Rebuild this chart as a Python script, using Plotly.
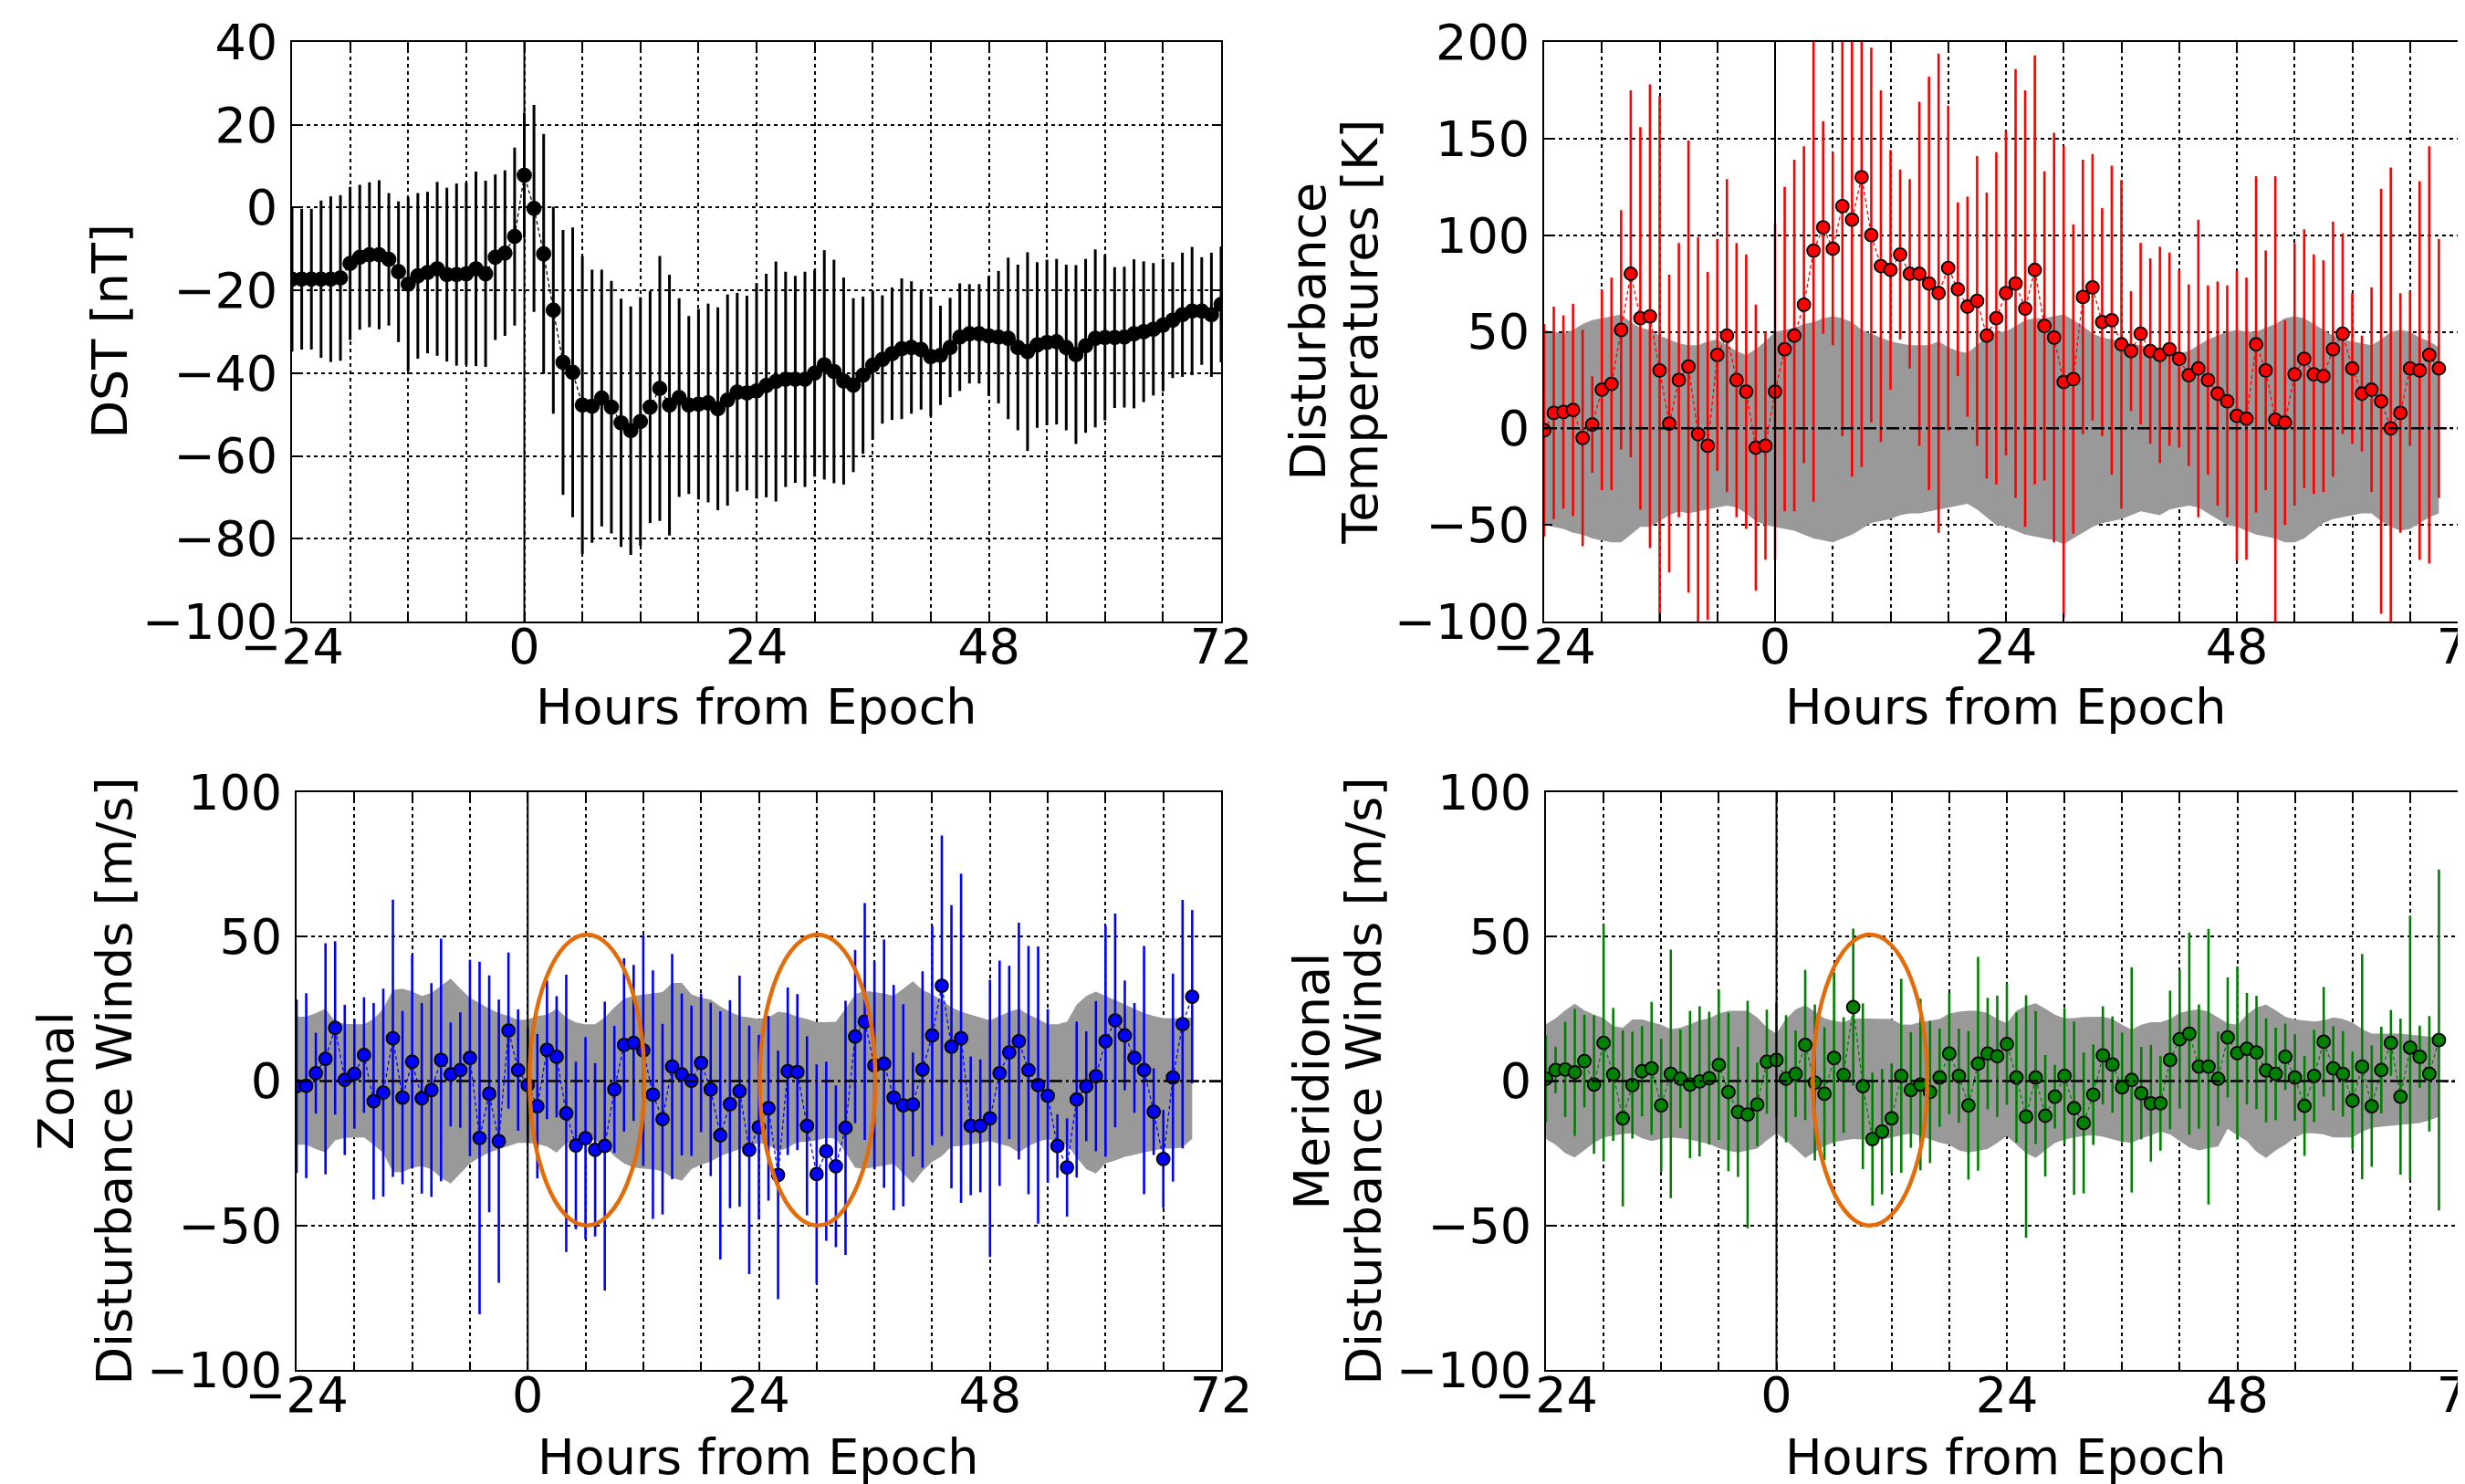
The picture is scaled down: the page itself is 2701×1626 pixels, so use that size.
import plotly.graph_objects as go

# ---------------- data ----------------
HOURS_DST = list(range(-24, 73))
HOURS = list(range(-24, 70))

DST = [-17.3, -17.3, -17.3, -17.3, -17.3, -17.0, -13.5, -12.0, -11.4, -11.4,
       -12.5, -15.5, -18.5, -16.5, -15.7, -14.8, -16.2, -16.2, -16.0, -14.8,
       -16.0, -12.0, -11.0, -7.0, 7.8, -0.2, -11.2, -24.8, -37.4, -39.8,
       -47.7, -48.0, -46.0, -48.2, -52.0, -53.9, -51.7, -48.2, -43.7, -47.7,
       -45.9, -47.7, -47.5, -47.2, -48.6, -46.5, -44.6, -44.8, -44.3, -43.0,
       -42.0, -41.5, -41.5, -41.5, -40.0, -38.0, -39.6, -41.9, -42.9, -40.5,
       -38.1, -36.7, -35.3, -34.1, -33.8, -34.3, -36.0, -35.7, -33.8, -31.3,
       -30.5, -30.5, -31.0, -31.3, -31.6, -33.8, -34.8, -33.2, -32.6, -32.4,
       -33.8, -35.5, -33.4, -31.6, -31.4, -31.4, -31.3, -30.5, -30.0, -29.4,
       -28.4, -27.2, -25.9, -25.0, -25.0, -25.9, -23.4]
DST_ERR = [17.5, 17, 17, 19, 20, 20, 18.5, 17.5, 17.5, 18,
           16, 17, 21, 20, 19.5, 21, 21, 22, 22, 23.5,
           22.5, 20, 20, 21.5, 15, 25, 29, 25, 32, 35,
           36, 33, 31, 30.5, 30, 30, 30, 28, 32, 31.5,
           24, 21.5, 23, 24, 24.5, 25.5, 24, 23.5, 26, 27,
           29, 26, 25, 26, 25, 27.7, 27, 25, 21, 19,
           18, 15.5, 16, 17, 16, 14.5, 14.5, 12, 12, 13,
           12, 12, 14.5, 16, 19.5, 20, 24, 20, 20, 20,
           20, 21.6, 21, 21.5, 20, 17, 17, 18, 17, 16,
           16, 14, 15, 15.5, 13, 15, 14]

TEMP = [-1, 8, 8.5, 9.5, -5, 2, 20, 23, 51, 80,
        57, 58, 30, 2.5, 25, 32, -3, -9, 38, 48,
        25, 19, -10, -9, 19, 41, 48, 64, 92, 104,
        93, 115, 108, 130, 100, 84, 82, 90, 80, 80,
        75, 70, 83, 72, 63, 66, 48, 57, 70, 75,
        62, 82, 53, 47, 24, 25.5, 68, 73, 55, 56,
        43.5, 40, 49, 40, 38, 41, 36, 27.5, 31, 25,
        18, 14, 6.5, 5, 43.5, 30, 4.5, 3, 28, 36,
        28, 27, 41, 49, 31, 18, 20, 14, 0, 8,
        31, 30, 38, 31]
TEMP_ERR = [55, 55, 50, 55, 56, 25, 52, 55, 62, 95,
            99, 120, 142, 77, 71, 117, 102, 90, 60, 81,
            71, 71, 74, 59, 87, 84, 91, 82, 130, 55,
            50, 119, 133, 150, 97, 91, 62, 44, 49, 89,
            107, 124, 84, 45, 57, 75, 74, 86, 84, 111,
            113, 111, 80, 106, 122, 80, 71, 69, 59, 80,
            85, 31, 47, 48, 56, 50, 46, 47, 77, 49,
            58, 60, 75, 73, 87, 62, 126, 53, 68, 67,
            62, 60, 66, 52, 39, 30, 53, 110, 135, 62,
            40, 98, 108, 67]
TEMP_BAND_HI = [51, 50, 49, 51, 54, 56, 57, 58, 59, 55,
                52, 51, 48, 46, 44, 43, 43, 45, 46, 43,
                40, 38, 41, 45, 50, 51, 52, 54, 55, 57,
                58, 57, 55, 51, 49, 47, 45, 44, 43, 43,
                43, 45, 42, 40, 39, 43, 48, 50, 50, 53,
                56, 57, 57, 58, 59, 56, 53, 49, 47, 46,
                45, 44, 43, 42, 42, 41, 39, 40, 43, 46,
                48, 50, 51, 50, 50, 52, 54, 57, 58, 57,
                54, 51, 48, 46, 45, 44, 43, 46, 50, 51,
                50, 47, 45, 42]
TEMP_BAND_LO = [-50, -51, -52, -54, -55, -57, -58, -59, -59, -55,
                -51, -51, -48, -45, -43, -44, -43, -42, -41, -40,
                -41, -44, -48, -50, -51, -52, -53, -55, -57, -58,
                -59, -57, -55, -52, -49, -48, -47, -45, -44, -44,
                -43, -42, -41, -40, -39, -42, -46, -50, -51, -53,
                -55, -56, -57, -58, -60, -57, -54, -51, -49, -48,
                -47, -45, -43, -44, -45, -42, -41, -40, -41, -44,
                -47, -50, -51, -53, -55, -56, -57, -59, -59, -57,
                -53, -49, -47, -46, -45, -44, -44, -48, -51, -53,
                -52, -49, -46, -44]

ZONAL = [-1.8, -1.6, 2.7, 7.7, 18.4, 0.4, 2.5, 9, -7, -4,
         14.8, -5.7, 6.7, -6, -3.1, 7.3, 2.3, 3.8, 8, -19.7,
         -4.4, -20.8, 17.5, 3.8, -1.4, -8.7, 10.8, 8.4, -11.2, -22.3,
         -19.8, -23.8, -22.5, -2.9, 12.5, 13.2, 10.6, -4.7, -13.2, 5,
         2.3, 0.1, 6.3, -2.9, -18.8, -8, -3.5, -23.8, -16, -9.4,
         -32.5, 3.4, 3.1, -15.5, -32.2, -24.3, -29.5, -16.2, 15.4, 20.6,
         5.4, 6, -5.7, -8.4, -8.1, 4, 15.8, 33, 11.9, 14.8,
         -15.5, -15.5, -12.9, 2.7, 9.9, 13.8, 3.8, -1.4, -5.1, -22.5,
         -29.9, -6.4, -1.8, 1.7, 13.8, 21, 15.8, 8, 3.8, -10.6,
         -27, 1.2, 19.7, 29.2]
ZONAL_ERR = [30, 32, 14, 40, 30, 26, 19, 20, 34, 36,
             48, 30, 37, 33, 37, 42, 18, 20, 34, 61,
             41, 49, 27, 21, 20, 25, 24, 21, 48, 29,
             35, 30, 50, 22, 30, 27, 40, 43, 33, 39,
             28, 26, 24, 30, 43, 36, 40, 43, 32, 32,
             43, 29, 27, 31, 38, 31, 28, 44, 30, 41,
             36, 43, 39, 35, 18, 34, 38, 52, 49, 57,
             24, 23, 48, 39, 30, 41, 43, 48, 30, 11,
             17, 27, 19, 26, 40, 37, 19, 19, 43, 15,
             17, 36, 43, 30]
ZONAL_BAND_HI = [22.3, 22.3, 23.5, 25, 20.6, 19.8, 19.7, 19.7, 21.5, 25,
                 31.5, 32, 31, 29.5, 30.5, 33, 35.5, 32, 28.8, 27,
                 25, 23.5, 22.5, 21.2, 21.3, 22.5, 23, 25, 22, 20.3,
                 19.7, 19.7, 22, 25.5, 28.5, 29.5, 30, 30.5, 30.8, 34,
                 34, 30, 28.8, 28.2, 25.8, 24, 22.5, 22, 21.5, 22,
                 24, 23.5, 22.3, 21.5, 20.4, 20.4, 20.5, 25, 30, 31.3,
                 30.8, 30.3, 29.5, 32, 34.5, 31.5, 30, 28, 25.5, 24,
                 23, 22, 21, 22.5, 24, 25, 23, 21.5, 19.7, 19.7,
                 20.5, 26.5, 29.5, 31, 29.5, 27.8, 26.4, 25, 23.5, 22.5,
                 21.8, 21.7, 21.7, 22]
ZONAL_BAND_LO = [-22, -22, -23.5, -24.7, -20.5, -19.7, -19.5, -19.5, -22, -25,
                 -31.5, -31.5, -30, -29.5, -30.5, -33.5, -35.5, -32, -28.5, -26.5,
                 -24.7, -23.5, -22.5, -21.4, -21.4, -21.8, -22.7, -24.7, -21.5, -20.5,
                 -20.1, -20.5, -22.5, -26, -28.5, -29.9, -30.3, -30.6, -31.2, -33.5,
                 -34.5, -30.5, -29, -27.9, -26, -24.7, -23.5, -22.5, -21.4, -22,
                 -24.5, -23, -21.2, -21, -20.5, -19.7, -20, -24.7, -30, -30.3,
                 -29.9, -29.3, -28.6, -32, -35.5, -31.2, -28, -26, -22.7, -22.4,
                 -22, -21.4, -20.8, -21.8, -22.7, -24.7, -22.5, -21, -20.1, -21,
                 -22, -26.5, -30.5, -32, -28.5, -27.5, -26.2, -25.5, -24.7, -24,
                 -23.4, -23.4, -23, -20]

MERID = [0.8, 3.8, 4, 3, 6.9, -1.2, 13.2, 2.3, -12.9, -1.4,
         3.4, 4.4, -8.4, 2.5, 0.8, -1.2, -0.1, 1, 5.6, -3.8,
         -10.7, -11.6, -8.1, 6.7, 7.3, 0.8, 2.5, 12.5, -0.5, -4.4,
         8, 2.1, 25.6, -1.8, -20.1, -17.5, -12.9, 1.8, -3.1, -1.2,
         -3.8, 1.2, 9.5, 1.8, -8.4, 6, 9.5, 8.6, 12.8, 1.2,
         -12.3, 1.2, -12, -5.4, 1.8, -9.4, -14.5, -4.7, 8.9, 5.7,
         -2.2, 0.4, -4.2, -7.7, -7.7, 7.3, 14.5, 16.4, 5, 5,
         0.8, 15.1, 9.7, 11.2, 9.9, 3.7, 2.5, 8.4, 1.2, -8.6,
         1.8, 13.6, 4.4, 2.5, -6.8, 5, -8.7, 3.8, 13.2, -5.4,
         11.6, 8.4, 2.5, 14.2]
MERID_ERR = [15, 8, 16.5, 22, 16, 24, 41, 23, 30.5, 18.5,
             15.6, 23, 23, 43, 17, 25.5, 26, 23, 26, 27.4,
             22.5, 39.4, 14.5, 18, 20, 22, 15, 26, 27, 23,
             29.7, 20, 27.2, 28.7, 23, 21.7, 19, 33.6, 20, 29.7,
             24.6, 17, 21, 16.3, 25.7, 37, 19.3, 21, 21, 22.5,
             42, 23, 21, 11, 23.5, 30, 24.4, 17.4, 17, 16.7,
             19, 39, 16, 20.2, 16.4, 24, 24, 35, 21.5, 47.7,
             16.3, 20.8, 30, 19.3, 19.6, 18, 16, 11.5, 15, 17.3,
             16, 19, 14.6, 14.8, 17, 39, 21, 15, 11.4, 27,
             45.7, 10.8, 20, 59]
MERID_BAND_HI = [19.7, 21.7, 24.5, 26.8, 24.5, 23, 21.8, 19, 18.5, 21.3,
                 21.3, 20.5, 19.5, 17.9, 18.5, 19.7, 21, 21.7, 23.4, 24.3,
                 24.3, 24.3, 22, 18.6, 16.4, 21.6, 24.8, 26.2, 24, 21.7,
                 20.8, 20.4, 21.7, 21.7, 21.7, 21.7, 21.5, 19.6, 19.5, 20.4,
                 21, 21.5, 23.4, 24, 24.3, 24.3, 23.5, 21.5, 20, 24.3,
                 26, 26.9, 25, 23, 21.7, 21.8, 22.2, 22.3, 22.3, 21.5,
                 19.5, 17.8, 19.5, 20.4, 20.4, 21.5, 23.6, 24.3, 24.9, 24,
                 22, 20, 19.5, 23, 25.5, 26.5, 24.5, 22.3, 21.3, 20.9,
                 20.6, 21, 22, 21.5, 20.2, 18, 16.4, 16.4, 16.4, 16.4,
                 16, 15.8, 15.3, 14.9]
MERID_BAND_LO = [-20.1, -22, -25, -26.5, -24, -21.4, -19.5, -18.8, -18.3, -18.1,
                 -19.8, -20.8, -20, -19.5, -19.8, -20.3, -21, -21.8, -23.2, -24.2,
                 -24.7, -24, -23.4, -20.5, -18.1, -20.5, -23.5, -26.6, -24.5, -22.5,
                 -21.2, -20.5, -20.1, -20.1, -20.3, -20.3, -19.5, -18.8, -18.1, -19,
                 -20.1, -21.3, -22, -24, -24.7, -24.2, -23.5, -21.4, -19, -22,
                 -25, -26.6, -24, -21.4, -20.3, -19.5, -19, -18.8, -19.3, -20.1,
                 -21, -21.4, -19.8, -18.8, -17.5, -18.5, -20.8, -23, -24, -23.2,
                 -22.7, -16.5, -18.8, -20.8, -24.5, -26.6, -24, -22, -19.5, -18.1,
                 -18.1, -18.5, -19.5, -19.5, -19.5, -17.5, -16.2, -15.8, -15.5, -15.2,
                 -14.9, -14.5, -13.6, -12.3]

# highlighted intervals (hours, value) for the orange ellipses
ELLIPSES = [  # (axis index, x0, x1, y0, y1)
    (3, 0.2, 12.1, -50, 50.7),
    (3, 24.1, 36.1, -50, 50.7),
    (4, 3.8, 15.7, -50, 50.7),
]

X_RANGE = [-24, 72]
X_TITLE = "Hours from Epoch"

# ---------------- layout geometry ----------------
W, H = 2701, 1626
OFF = 8          # page body margin of the html page
FONT = "DejaVu Sans"
FS = 54


def fx(p):
    return (p - OFF) / W


def fy(p):
    return 1 - (p - OFF) / H


PANELS = {
    1: dict(x=(320, 1338), y=(46, 681), yr=[-100, 40], dy=20),
    2: dict(x=(1692, 2704), y=(46, 681), yr=[-100, 200], dy=50),
    3: dict(x=(325, 1338), y=(868, 1501), yr=[-100, 100], dy=50),
    4: dict(x=(1694, 2704), y=(868, 1501), yr=[-100, 100], dy=50),
}

GRID = dict(gridcolor="black", gridwidth=1.5, griddash="4px,4px")

fig = go.Figure()
layout = dict(
    width=W, height=H, margin=dict(l=0, r=0, t=0, b=0),
    paper_bgcolor="white", plot_bgcolor="white",
    font=dict(family=FONT, size=FS, color="black"),
    showlegend=False,
)

for i, p in PANELS.items():
    sfx = "" if i == 1 else str(i)
    layout["xaxis" + sfx] = dict(
        domain=[fx(p["x"][0]), min(1.0, fx(p["x"][1]))],
        anchor="y" + sfx, range=X_RANGE,
        tickmode="linear", tick0=0, dtick=24,
        showgrid=True, **GRID,
        minor=dict(tickmode="linear", tick0=0, dtick=6, showgrid=True,
                   ticks="inside", ticklen=9, tickwidth=1.5, tickcolor="black",
                   **GRID),
        ticks="inside", ticklen=9, tickwidth=1.5, tickcolor="black",
        showline=True, linecolor="black", linewidth=2, mirror="allticks",
        zeroline=False, automargin=False,
        tickfont=dict(family=FONT, size=FS, color="black"),
        ticklabelstandoff=-21, ticklabeloverflow="allow",
    )
    layout["yaxis" + sfx] = dict(
        domain=[fy(p["y"][1]), fy(p["y"][0])],
        anchor="x" + sfx, range=p["yr"],
        tickmode="linear", tick0=0, dtick=p["dy"],
        showgrid=True, **GRID,
        ticks="inside", ticklen=9, tickwidth=1.5, tickcolor="black",
        showline=True, linecolor="black", linewidth=2, mirror="allticks",
        zeroline=False, automargin=False,
        tickfont=dict(family=FONT, size=FS, color="black"),
        ticklabelstandoff=3,
    )


def add_series(i, x, y, err, color, band=None, msize=14, ethick=2.6):
    sfx = "" if i == 1 else str(i)
    xa, ya = "x" + sfx, "y" + sfx
    if band is not None:
        hi, lo = band
        fig.add_trace(go.Scatter(
            x=list(x) + list(x)[::-1], y=list(hi) + list(lo)[::-1],
            fill="toself", fillcolor="#999999", mode="lines",
            line=dict(width=0, color="#999999"), xaxis=xa, yaxis=ya,
            hoverinfo="skip"))
    fig.add_trace(go.Scatter(
        x=x, y=y, mode="markers",
        marker=dict(size=1, color="rgba(0,0,0,0)"),
        error_y=dict(type="data", array=err, visible=True, color=color,
                     thickness=ethick, width=0),
        xaxis=xa, yaxis=ya, hoverinfo="skip"))
    fig.add_trace(go.Scatter(
        x=x, y=y, mode="lines+markers",
        line=dict(color=color, width=1.3, dash="4px,3px"),
        marker=dict(symbol="circle", size=msize, color=color,
                    line=dict(color="black", width=1.8)),
        xaxis=xa, yaxis=ya))


add_series(1, HOURS_DST, DST, DST_ERR, "black", msize=15, ethick=3)
add_series(2, HOURS, TEMP, TEMP_ERR, "#ff0000", (TEMP_BAND_HI, TEMP_BAND_LO))
add_series(3, HOURS, ZONAL, ZONAL_ERR, "#0000ff", (ZONAL_BAND_HI, ZONAL_BAND_LO))
add_series(4, HOURS, MERID, MERID_ERR, "#008000", (MERID_BAND_HI, MERID_BAND_LO))

shapes = []
for i in PANELS:
    sfx = "" if i == 1 else str(i)
    # epoch marker (solid vertical line at hour 0)
    shapes.append(dict(type="line", xref="x" + sfx, x0=0, x1=0,
                       yref="y" + sfx + " domain", y0=0, y1=1,
                       line=dict(color="black", width=2), layer="above"))
    if i != 1:
        shapes.append(dict(type="line", xref="x" + sfx + " domain", x0=0, x1=1,
                           yref="y" + sfx, y0=0, y1=0,
                           line=dict(color="black", width=2.5,
                                     dash="14px,4px,3px,4px"),
                           layer="above"))
for (i, x0, x1, y0, y1) in ELLIPSES:
    sfx = str(i)
    shapes.append(dict(type="circle", xref="x" + sfx, yref="y" + sfx,
                       x0=x0, x1=x1, y0=y0, y1=y1,
                       line=dict(color="#E36C0A", width=4.5), layer="above"))
layout["shapes"] = shapes

ann = []


def label(text, xp, yp, angle=0):
    ann.append(dict(text=text, x=fx(xp), y=fy(yp), xref="paper", yref="paper",
                    xanchor="center", yanchor="middle", showarrow=False,
                    textangle=angle, font=dict(family=FONT, size=FS, color="black")))


# y-axis titles
label("DST [nT]", 120, 363.5, -90)
label("Disturbance", 1433, 363.5, -90)
label("Temperatures [K]", 1490, 363.5, -90)
label("Zonal", 61, 1184.5, -90)
label("Disturbance Winds [m/s]", 125, 1184.5, -90)
label("Meridional", 1437, 1184.5, -90)
label("Disturbance Winds [m/s]", 1494, 1184.5, -90)
# x-axis titles
label(X_TITLE, 829, 775)
label(X_TITLE, 2198, 775)
label(X_TITLE, 831, 1596)
label(X_TITLE, 2198, 1596)
layout["annotations"] = ann

fig.update_layout(**layout)
fig.write_html("out.html")
